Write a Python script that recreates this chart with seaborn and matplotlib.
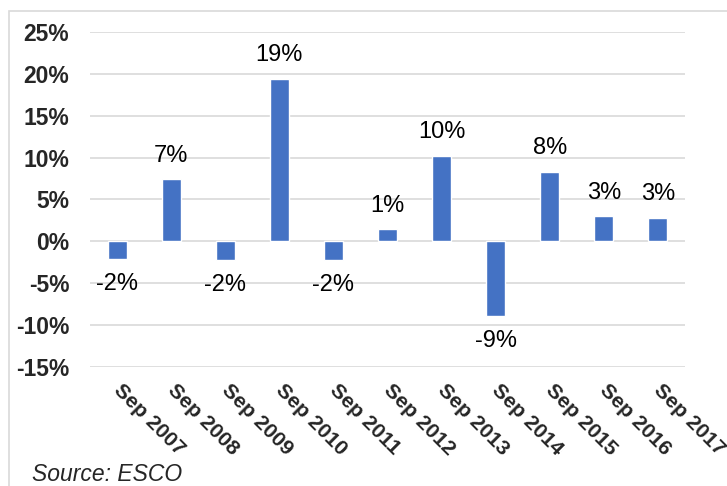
import matplotlib
matplotlib.use("Agg")
import matplotlib.pyplot as plt
from matplotlib.patches import Rectangle
from matplotlib.ticker import FuncFormatter, MultipleLocator
from matplotlib.transforms import ScaledTranslation
import seaborn as sns
import pandas as pd

# Annual change, September to September (%)
periods = ["Sep 2007", "Sep 2008", "Sep 2009", "Sep 2010", "Sep 2011", "Sep 2012",
           "Sep 2013", "Sep 2014", "Sep 2015", "Sep 2016", "Sep 2017"]
changes = [-2.1, 7.4, -2.2, 19.4, -2.3, 1.4, 10.2, -8.9, 8.3, 3.0, 2.8]

df = pd.DataFrame({"period": periods, "change": changes})

sns.set_style("white")
plt.rcParams["font.family"] = ["Liberation Sans", "DejaVu Sans"]

fig = plt.figure(figsize=(7.27, 4.86), dpi=100)
ax = fig.add_axes([0.1238, 0.2455, 0.8184, 0.6885])

sns.barplot(data=df, x="period", y="change", color="#4472C4", width=0.35,
            saturation=1, ax=ax, zorder=3)

ax.set_ylim(-15, 25)
ax.set_xlim(-0.5, len(periods) - 0.5)
ax.yaxis.set_major_locator(MultipleLocator(5))
ax.yaxis.set_major_formatter(FuncFormatter(lambda v, _: f"{v:.0f}%"))
ax.grid(axis="y", color="#D9D9D9", linewidth=1.2, zorder=0)
ax.grid(axis="x", visible=False)
for s in ax.spines.values():
    s.set_visible(False)
ax.tick_params(axis="both", length=0)
ax.set_xlabel("")
ax.set_ylabel("")

for lbl in ax.get_yticklabels():
    lbl.set_fontsize(16.5)
    lbl.set_fontweight("bold")
ax.tick_params(axis="y", pad=15)

ax.set_xticks(range(len(periods)))
ax.set_xticklabels(periods, rotation=-45, ha="left", va="top",
                   rotation_mode="anchor", fontsize=15.2, fontweight="bold")
ax.tick_params(axis="x", pad=13)
shift = ScaledTranslation(6 / 100, 4 / 100, fig.dpi_scale_trans)
for lbl in ax.get_xticklabels():
    lbl.set_transform(lbl.get_transform() + shift)

# value labels at bar ends
for i, v in enumerate(changes):
    off = 9 if v >= 0 else -10
    ax.annotate(f"{v:.0f}%", xy=(i, v), xytext=(0, off), textcoords="offset points",
                ha="center", va="bottom" if v >= 0 else "top", fontsize=17,
                color="#000000")

# chart frame
fig.patches.append(Rectangle((9 / 727, -0.05), 1.2, 1 - 11 / 486 + 0.05,
                             transform=fig.transFigure, fill=False,
                             edgecolor="#D9D9D9", linewidth=1.2))

fig.text(32 / 727, 1 - 474 / 486, "Source: ESCO", fontsize=16.5, style="italic",
         ha="left", va="center")

fig.savefig("out.png", dpi=100)
